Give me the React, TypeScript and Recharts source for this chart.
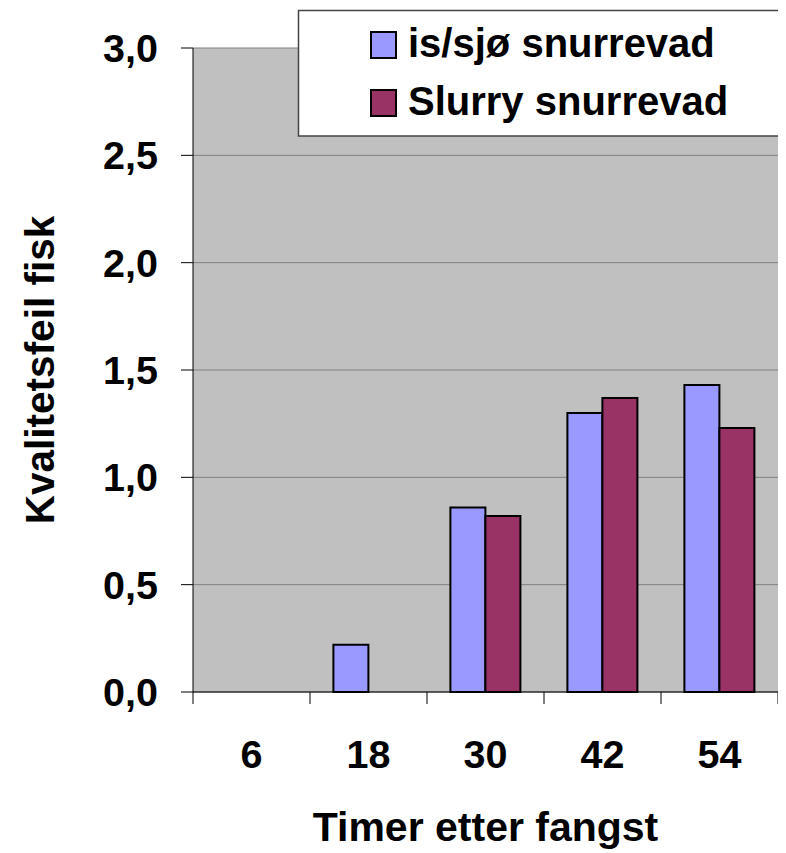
import React from 'react';
import { BarChart, Bar, XAxis, YAxis, CartesianGrid } from 'recharts';

const categories = ['6', '18', '30', '42', '54'];
const isSjo = [null, 0.22, 0.86, 1.30, 1.43];
const slurry = [null, null, 0.82, 1.37, 1.23];
const yTicks = [0, 0.5, 1.0, 1.5, 2.0, 2.5, 3.0];
const seriesNames = ['is/sjø snurrevad', 'Slurry snurrevad'];
const seriesColors = ['#9999FF', '#993366'];

const data = categories.map((c, i) => ({ cat: c, a: isSjo[i], b: slurry[i] }));

const FONT = '"Liberation Sans", Arial, sans-serif';

const XTick = (props: any) => {
  const { x, y, payload, index } = props;
  const half = payload && payload.offset ? payload.offset : 58.5;
  const last = index === categories.length - 1;
  return (
    <g>
      <line x1={x - half} y1={y} x2={x - half} y2={y + 12} stroke="#000" strokeWidth={1} />
      {last && <line x1={x + half} y1={y} x2={x + half} y2={y + 12} stroke="#000" strokeWidth={1} />}
      <text x={x} y={y + 76} textAnchor="middle" fill="#000" fontSize={39.5} fontWeight="bold" fontFamily={FONT}>
        {payload.value}
      </text>
    </g>
  );
};

export default function App() {
  return (
    <div style={{ position: 'relative', width: 778, height: 845 }}>
      <BarChart
        width={778}
        height={845}
        data={data}
        margin={{ top: 40, right: 8, left: 0, bottom: 0 }}
        barCategoryGap="20%"
        barGap={0}
      >
        <CartesianGrid vertical={false} stroke="#808080" fill="#C0C0C0" strokeWidth={1} />
        <XAxis
          dataKey="cat"
          height={161}
          axisLine={{ stroke: '#000', strokeWidth: 1 }}
          tickLine={false}
          tickSize={0}
          tickMargin={0}
          interval={0}
          tick={<XTick />}
          label={{ value: 'Timer etter fangst', position: 'insideBottom', offset: 12, fill: '#000', fontSize: 41, fontWeight: 'bold', fontFamily: FONT, textAnchor: 'middle' }}
        />
        <YAxis
          width={185}
          domain={[0, 3]}
          ticks={yTicks}
          interval={0}
          tickFormatter={(v: number) => v.toFixed(1).replace('.', ',')}
          axisLine={{ stroke: '#000', strokeWidth: 1 }}
          tickLine={{ stroke: '#000', strokeWidth: 1 }}
          tickSize={12}
          tickMargin={23}
          tick={{ fill: '#000', fontSize: 39.5, fontWeight: 'bold', fontFamily: FONT }}
          label={{ value: 'Kvalitetsfeil fisk', angle: -90, position: 'insideLeft', offset: 32, fill: '#000', fontSize: 40.5, fontWeight: 'bold', fontFamily: FONT, textAnchor: 'middle' }}
        />
        <YAxis
          yAxisId="r"
          orientation="right"
          width={0}
          domain={[0, 3]}
          tick={false}
          tickLine={false}
          axisLine={{ stroke: '#808080', strokeWidth: 2 }}
        />
        <Bar dataKey="a" name={seriesNames[0]} fill={seriesColors[0]} stroke="#000" strokeWidth={2} isAnimationActive={false} />
        <Bar dataKey="b" name={seriesNames[1]} fill={seriesColors[1]} stroke="#000" strokeWidth={2} isAnimationActive={false} />
      </BarChart>
      <svg
        width={488}
        height={127}
        style={{ position: 'absolute', left: 290, top: 2, overflow: 'visible' }}
      >
        <rect x={0} y={0} width={488} height={126} fill="#fff" />
        <polyline points="488,0.5 0.5,0.5 0.5,126 488,126" fill="none" stroke="#444" strokeWidth={1.5} />
        {seriesNames.map((n, i) => (
          <g key={n}>
            <rect x={73} y={22 + i * 58} width={25} height={26} fill={seriesColors[i]} stroke="#000" strokeWidth={2} />
            <text x={110} y={47 + i * 58} fill="#000" fontSize={40} fontWeight="bold" fontFamily={FONT}>
              {n}
            </text>
          </g>
        ))}
      </svg>
    </div>
  );
}
